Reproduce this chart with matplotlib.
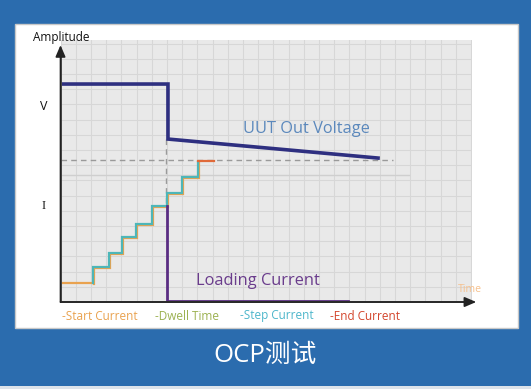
import matplotlib
matplotlib.use("Agg")
import matplotlib.pyplot as plt
import matplotlib.patches as mpatches
import matplotlib.transforms as mtransforms
import numpy as np

# ---- data (in grid units) ----
volt_x = [0.0, 7.07, 7.07, 20.89]
volt_y = [14.34, 14.34, 10.72, 9.47]

step_x = [2.12, 3.19, 4.05, 4.97, 6.02, 7.01, 8.00, 9.05]
step_levels = [1.25, 2.30, 3.22, 4.28, 5.13, 6.32, 7.17, 8.22, 9.21]
start_x = [0.0, 2.12]
end_x = [9.05, 10.1]
end_level = 9.30

load_x = [7.01, 7.01, 18.9]
load_y = [6.32, 0.08, 0.08]

limit_dash_y = 9.34
limit_dash_xmax = 21.9
ref_line_y = 8.36
ref_line_xmax = 22.9
vdash_x = 6.94
vdash_y = [10.72, 6.4]

legend_labels = ["-Start Current", "-Dwell Time", "-Step Current", "-End Current"]
legend_colors = ["#E9A24F", "#9CB150", "#4DB6CB", "#D3452C"]
legend_xpix = [62, 155, 240, 330]

W, H = 531, 389
fig = plt.figure(figsize=(W / 100, H / 100), dpi=100)
fig.patch.set_facecolor("#2B6CAE")

def fx(p):
    return p / W

def fy(p):
    return 1 - p / H

# white panel
fig.patches.append(mpatches.Rectangle((fx(15), fy(328)), fx(518) - fx(15), fy(24) - fy(328),
                                      transform=fig.transFigure, facecolor="white",
                                      edgecolor="#C8C8C8", linewidth=1.0, zorder=-5))
# bottom light strip
fig.patches.append(mpatches.Rectangle((0, 0), 1, fy(386) - 0, transform=fig.transFigure,
                                      facecolor="#DDE3EA", edgecolor="none", zorder=-5))

x0, x1, y0, y1 = 60.5, 472, 40, 302
cell = 15.2
ax = fig.add_axes([fx(x0), fy(y1), fx(x1) - fx(x0), fy(y0) - fy(y1)])
ax.set_zorder(2)
ax.set_facecolor("#E9E9E9")
xmax = (x1 - x0) / cell
ymax = (y1 - y0) / cell
ax.set_xlim(0, xmax)
ax.set_ylim(0, ymax)
for s in ax.spines.values():
    s.set_visible(False)
ax.set_xticks(np.arange(0, xmax, 1))
ax.set_yticks(np.arange(0, ymax, 1))
ax.tick_params(length=0, labelbottom=False, labelleft=False)
ax.grid(True, color="#D7D7D7", linewidth=0.8)
ax.set_axisbelow(True)

# reference lines
ax.plot([0, ref_line_xmax], [ref_line_y, ref_line_y], color="#CFCFCF", lw=1.0)
ax.plot([0, limit_dash_xmax], [limit_dash_y, limit_dash_y], color="#9A9A9A", lw=1.0, ls=(0, (4, 3)))
ax.plot([vdash_x, vdash_x], vdash_y, color="#9A9A9A", lw=1.0, ls=(0, (4, 3)))

# staircase
sx = [step_x[0]]
sy = [step_levels[0]]
for i, xv in enumerate(step_x):
    sx += [xv, xv]
    sy += [step_levels[i], step_levels[i + 1]]
    nxt = step_x[i + 1] if i + 1 < len(step_x) else end_x[0]
    sx.append(nxt)
    sy.append(step_levels[i + 1])
off = mtransforms.offset_copy(ax.transData, fig=fig, x=1.0, y=-1.0, units="dots")
ax.plot(sx, sy, color="#E9A24F", lw=1.6, transform=off, solid_joinstyle="miter")
ax.plot(start_x, [step_levels[0]] * 2, color="#E9A24F", lw=1.6)
ax.plot(sx, sy, color="#4DB6B8", lw=1.6, solid_joinstyle="miter")
ax.plot(end_x, [end_level, end_level], color="#E06A3A", lw=1.6)

# loading current
ax.plot(load_x, load_y, color="#5A2D82", lw=2.0, clip_on=False)

# voltage
ax.plot(volt_x, volt_y, color="#2E2F80", lw=2.6, solid_joinstyle="miter")

# axes arrows
ax.annotate("", xy=(0, 16.9), xytext=(0, 0), annotation_clip=False,
            arrowprops=dict(arrowstyle="-|>,head_length=0.7,head_width=0.3", color="#222222", lw=1.2,
                            shrinkA=0, shrinkB=0))
ax.annotate("", xy=(27.35, 0), xytext=(0, 0), annotation_clip=False,
            arrowprops=dict(arrowstyle="-|>,head_length=0.7,head_width=0.3", color="#222222", lw=1.2,
                            shrinkA=0, shrinkB=0))
ax.plot([0, 0], [0, 16.5], color="#555555", lw=1.4, clip_on=False)
ax.plot([0, 27.0], [0, 0], color="#555555", lw=1.4, clip_on=False)

fam = ["Open Sans", "DejaVu Sans"]
fig.text(fx(33), fy(37), "Amplitude", fontsize=8.5, color="#111111", family=fam, va="center", ha="left")
fig.text(fx(44), fy(107), "V", fontsize=9, color="#111111", family=fam, va="center", ha="center")
fig.text(fx(44), fy(206), "I", fontsize=9, color="#111111", family=["Liberation Serif"], va="center", ha="center")
fig.text(fx(306), fy(129), "UUT Out Voltage", fontsize=11.8, color="#5B88BC", family=fam, va="center", ha="center")
fig.text(fx(257.5), fy(281), "Loading Current", fontsize=11.8, color="#6A3C8C", family=fam, va="center", ha="center")
fig.text(fx(469.5), fy(290), "Time", fontsize=7.6, color="#F6C08C", family=fam, va="center", ha="center")
for lab, col, xp in zip(legend_labels, legend_colors, legend_xpix):
    fig.text(fx(xp), fy(316), lab, fontsize=8.5, color=col, family=fam, va="center", ha="left")
fig.text(fx(265.5), fy(355), "OCP测试", fontsize=18.5, color="white",
         family=["Open Sans", "Noto Sans CJK SC", "DejaVu Sans"], va="center", ha="center")

fig.savefig("out.png", dpi=100, facecolor=fig.get_facecolor())
